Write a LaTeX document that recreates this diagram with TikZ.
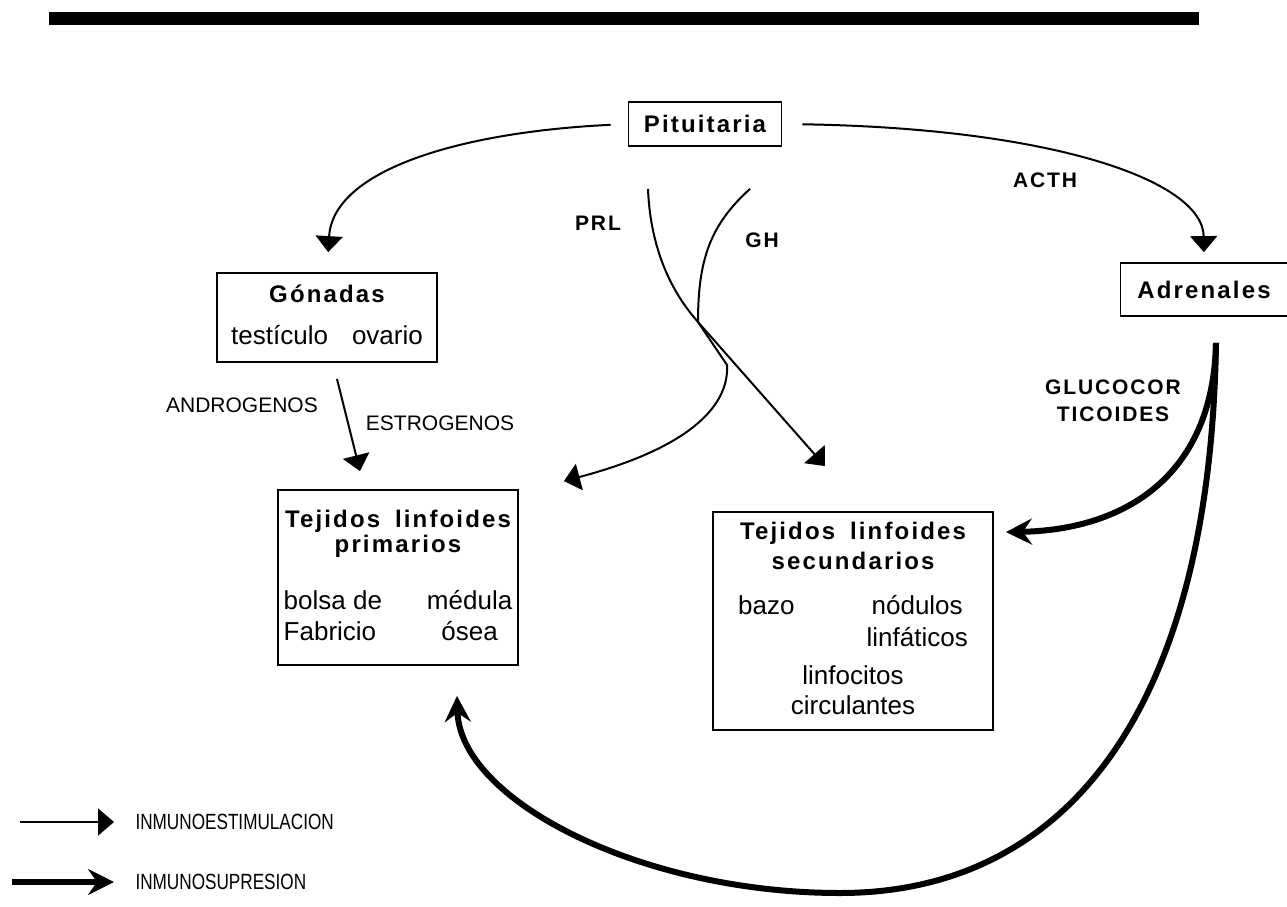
\documentclass[tikz,border=0pt]{standalone}
\usepackage{fontspec}
\setmainfont{Liberation Sans}
\newfontfamily\hdfont{Liberation Sans}[LetterSpace=9]
\newfontfamily\legfont{Liberation Sans}[FakeStretch=0.78]
\usetikzlibrary{arrows.meta}
\newcommand{\hd}[1]{{\hdfont\bfseries\fontsize{24}{28}\selectfont #1}}
\tikzset{
	organ/.style={draw, line width=1.8pt, inner sep=0pt, font=\fontsize{26}{30}\selectfont},
	hormone/.style={font=\hdfont\bfseries\fontsize{21}{27}\selectfont},
	steroid/.style={font=\fontsize{21}{24}\selectfont},
	legtext/.style={font=\legfont\fontsize{22}{24}\selectfont, anchor=west},
	stim/.style={line width=2pt, -{Triangle[width=27pt,length=16pt]}},
	supp/.style={line width=6pt, -{Stealth[width=26pt,length=26pt,inset=9pt]}}
}
\begin{document}
\begin{tikzpicture}[x=1pt,y=-1pt]
				\useasboundingbox (0,0) rectangle (1287,907);
				\fill (49,12) rectangle (1199,25);
				\node[organ, minimum width=153pt, minimum height=44pt] (pit) at (705,124) {\hd{Pituitaria}};
				\node[organ, minimum width=167pt, minimum height=53pt] (adr) at (1204,289.5) {\hd{Adrenales}};
				\node[organ, minimum width=220pt, minimum height=89pt] (gon) at (327,317.5) {\begin{tabular}{@{}c@{}}\hd{Gónadas}\\[12pt] testículo\hspace{24pt}ovario\end{tabular}};
				\node[organ, minimum width=240pt, minimum height=175pt] (prim) at (398,577.5) {\begin{tabular}{@{}l@{\hspace{45pt}}c@{}}
					\multicolumn{2}{@{}c@{}}{\hd{Tejidos\hspace{6pt} linfoides}}\\[-5pt]
					\multicolumn{2}{@{}c@{}}{\hd{primarios}}\\[27pt]
					bolsa de & médula\\[1pt]
					Fabricio & ósea
				\end{tabular}};
				\node[organ, minimum width=280pt, minimum height=218pt] (sec) at (853,621) {\begin{tabular}{@{}l@{\hspace{72pt}}c@{}}
					\multicolumn{2}{@{}c@{}}{\hd{Tejidos\hspace{6pt} linfoides}}\\[0pt]
					\multicolumn{2}{@{}c@{}}{\hd{secundarios}}\\[15pt]
					bazo & nódulos\\[2pt]
					& linfáticos\\[8pt]
					\multicolumn{2}{@{}c@{}}{linfocitos}\\[0pt]
					\multicolumn{2}{@{}c@{}}{circulantes}
				\end{tabular}};
				\node[hormone] (prl) at (598,223) {PRL};
				\node[hormone] (gh) at (762,240) {GH};
				\node[hormone] (acth) at (1045,180) {ACTH};
				\node[hormone, align=center] (gluc) at (1113,401) {GLUCOCOR\\TICOIDES};
				\node[steroid] (andro) at (242,405) {ANDROGENOS};
				\node[steroid] (estro) at (440,423) {ESTROGENOS};
				\draw[stim, shorten <=17pt, shorten >=20pt] (pit.west) .. controls (460,132) and (333,170) .. (gon.north);
				\draw[stim, shorten <=20pt, shorten >=10pt] (pit.east) .. controls (1050,128) and (1203,180) .. (adr.north);
				\draw[stim] ([xshift=10pt,yshift=-16pt]gon.south) -- ([xshift=-38pt,yshift=18pt]prim.north);
				\draw[stim] ([xshift=-57pt,yshift=-42pt]pit.south) .. controls (650,240) and (666,286) .. (698,322) -- ([xshift=-28pt,yshift=45pt]sec.north);
				\draw[stim] ([xshift=45pt,yshift=-42pt]pit.south) .. controls (710,225) and (698,260) .. (698,322) -- (727,365) .. controls (729,400) and (700,445) .. ([xshift=45pt,yshift=8pt]prim.north east);
				\draw[supp] ([xshift=12pt,yshift=-26pt]adr.south) .. controls (1213,480) and (1120,530) .. ([xshift=12pt,yshift=-21pt]sec.north east);
				\draw[supp] ([xshift=12pt,yshift=-26pt]adr.south) .. controls (1210,720) and (1060,893) .. (840,893) .. controls (640,893) and (460,800) .. ([xshift=59pt,yshift=-30pt]prim.south);
				\node[legtext] (stimleg) at (132,822) {INMUNOESTIMULACION};
				\node[legtext] (suppleg) at (132,882) {INMUNOSUPRESION};
				\draw[stim] ([xshift=-112pt]stimleg.west) -- ([xshift=-18pt]stimleg.west);
				\draw[supp] ([xshift=-120pt]suppleg.west) -- ([xshift=-18pt]suppleg.west);
			\end{tikzpicture}
\end{document}
